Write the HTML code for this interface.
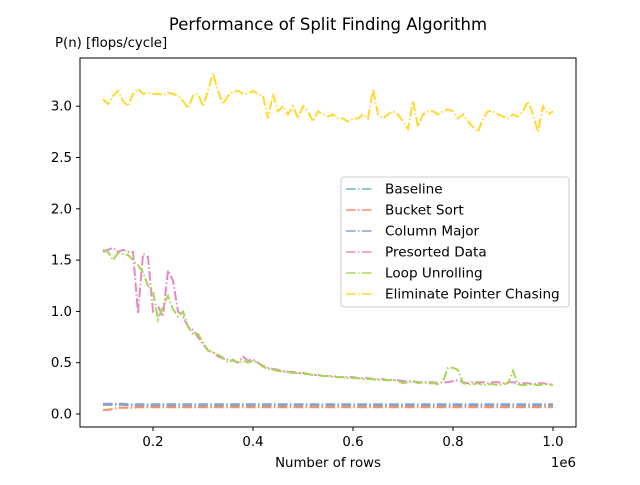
<!DOCTYPE html>
<html><head><meta charset="utf-8"><style>
body{margin:0;background:#fff;font-family:"Liberation Sans","DejaVu Sans",sans-serif}
svg text{font-family:"DejaVu Sans","Liberation Sans",sans-serif}
</style></head><body>
<svg id="chart" width="640" height="480">
<text x="328" y="30" font-size="16.5" text-anchor="middle">Performance of Split Finding Algorithm</text>
<text x="55" y="47" font-size="13.3">P(n) [flops/cycle]</text>
<text x="328" y="467" font-size="13.3" text-anchor="middle">Number of rows</text>
<text x="576" y="467" font-size="13.3" text-anchor="end">1e6</text>
<g id="plot"></g>
<rect x="80" y="58" width="496" height="369" fill="none" stroke="#000" stroke-width="1"/>
<g id="legend"></g>
</svg>
<script>
const xTicks=[0.2,0.4,0.6,0.8,1.0];
const xTickLabels=["0.2","0.4","0.6","0.8","1.0"];
const yTicks=[0,0.5,1,1.5,2,2.5,3];
const yTickLabels=["0.0","0.5","1.0","1.5","2.0","2.5","3.0"];
const seriesNames=["Baseline","Bucket Sort","Column Major","Presorted Data","Loop Unrolling","Eliminate Pointer Chasing"];
const seriesColors=["#66c2a5","#fc8d62","#8da0cb","#e78ac3","#a6d854","#ffd92f"];
const rows=[];for(let i=0;i<=90;i++)rows.push(0.1+i*0.01);
const baseline=[0.09,0.09,0.09,0.09,0.09,0.09,0.09,0.085,0.085,0.085,0.085,0.085,0.085,0.085,0.085,0.085,0.085,0.085,0.085,0.085,0.085,0.085,0.085,0.085,0.085,0.085,0.085,0.085,0.085,0.085,0.085,0.085,0.085,0.085,0.085,0.085,0.085,0.085,0.085,0.085,0.085,0.085,0.085,0.085,0.085,0.085,0.085,0.085,0.085,0.085,0.085,0.085,0.085,0.085,0.085,0.085,0.085,0.085,0.085,0.085,0.085,0.085,0.085,0.085,0.085,0.085,0.085,0.085,0.085,0.085,0.085,0.085,0.085,0.085,0.085,0.085,0.085,0.085,0.085,0.085,0.085,0.085,0.085,0.085,0.085,0.085,0.085,0.085,0.085,0.085,0.085];
const bucketSort=[0.04,0.04,0.05,0.06,0.06,0.06,0.06,0.065,0.065,0.065,0.065,0.065,0.065,0.065,0.065,0.065,0.065,0.065,0.065,0.065,0.065,0.065,0.065,0.065,0.065,0.065,0.065,0.065,0.065,0.065,0.065,0.065,0.065,0.065,0.065,0.065,0.065,0.065,0.065,0.065,0.065,0.065,0.065,0.065,0.065,0.065,0.065,0.065,0.065,0.065,0.065,0.065,0.065,0.065,0.065,0.065,0.065,0.065,0.065,0.065,0.065,0.065,0.065,0.065,0.065,0.065,0.065,0.065,0.065,0.065,0.065,0.065,0.065,0.065,0.065,0.065,0.065,0.065,0.065,0.065,0.065,0.065,0.065,0.065,0.065,0.065,0.065,0.065,0.065,0.065,0.065];
const columnMajor=[0.095,0.095,0.095,0.095,0.095,0.09,0.09,0.09,0.09,0.09,0.09,0.09,0.09,0.09,0.09,0.09,0.09,0.09,0.09,0.09,0.09,0.09,0.09,0.09,0.09,0.09,0.09,0.09,0.09,0.09,0.09,0.09,0.09,0.09,0.09,0.09,0.09,0.09,0.09,0.09,0.09,0.09,0.09,0.09,0.09,0.09,0.09,0.09,0.09,0.09,0.09,0.09,0.09,0.09,0.09,0.09,0.09,0.09,0.09,0.09,0.09,0.09,0.09,0.09,0.09,0.09,0.09,0.09,0.09,0.09,0.09,0.09,0.09,0.09,0.09,0.09,0.09,0.09,0.09,0.09,0.09,0.09,0.09,0.09,0.09,0.09,0.09,0.09,0.09,0.09,0.09];
const presorted=[1.58,1.6,1.62,1.58,1.6,1.58,1.58,0.98,1.56,1.53,1.0,1.05,0.95,1.4,1.3,1.0,0.95,0.85,0.82,0.75,0.68,0.62,0.6,0.56,0.54,0.53,0.52,0.5,0.56,0.52,0.53,0.5,0.47,0.45,0.44,0.43,0.42,0.41,0.41,0.4,0.4,0.39,0.38,0.38,0.37,0.37,0.37,0.36,0.36,0.36,0.36,0.35,0.35,0.35,0.34,0.34,0.34,0.33,0.33,0.33,0.32,0.32,0.32,0.31,0.31,0.31,0.31,0.3,0.31,0.31,0.32,0.33,0.31,0.3,0.31,0.31,0.31,0.3,0.31,0.31,0.3,0.31,0.31,0.3,0.3,0.3,0.29,0.3,0.3,0.29,0.29];
const loopUnrolling=[1.6,1.58,1.5,1.57,1.56,1.55,1.5,1.45,1.38,1.25,1.2,0.92,1.05,1.15,1.02,0.95,1.0,0.85,0.78,0.78,0.7,0.62,0.6,0.58,0.55,0.5,0.53,0.5,0.52,0.5,0.52,0.5,0.46,0.44,0.43,0.42,0.41,0.41,0.4,0.4,0.39,0.39,0.38,0.38,0.37,0.37,0.36,0.36,0.36,0.35,0.35,0.35,0.34,0.34,0.34,0.33,0.33,0.33,0.33,0.32,0.3,0.31,0.32,0.3,0.31,0.3,0.3,0.29,0.32,0.45,0.45,0.43,0.3,0.29,0.29,0.3,0.28,0.29,0.29,0.28,0.29,0.3,0.42,0.29,0.28,0.29,0.29,0.28,0.29,0.29,0.28];
const pointerChasing=[3.07,3.02,3.1,3.15,3.05,3.0,3.12,3.17,3.12,3.13,3.12,3.12,3.11,3.13,3.12,3.1,3.05,2.98,3.1,3.12,3.0,3.15,3.32,3.15,3.02,3.1,3.14,3.15,3.12,3.12,3.15,3.12,3.1,2.88,3.12,2.95,3.0,2.92,3.0,2.88,3.0,2.95,2.85,2.95,2.92,2.9,2.92,2.88,2.88,2.85,2.88,2.88,2.92,2.88,3.17,2.92,2.88,2.92,2.95,2.92,2.85,2.78,3.05,2.8,2.92,2.95,2.95,2.92,2.95,2.97,2.95,2.88,2.92,2.85,2.8,2.75,2.88,2.95,2.95,2.92,2.9,2.88,2.92,2.9,2.95,3.05,2.92,2.75,3.0,2.92,2.95];
const allSeries=[baseline,bucketSort,columnMajor,presorted,loopUnrolling,pointerChasing];

const NS="http://www.w3.org/2000/svg";
const X=v=>103+(v-0.1)*500;
const Y=v=>414-v*102.6;
const plot=document.getElementById('plot');
function mk(tag,attrs,parent){const e=document.createElementNS(NS,tag);for(const k in attrs)e.setAttribute(k,attrs[k]);parent.appendChild(e);return e;}
xTicks.forEach((t,i)=>{
  const l=mk('line',{x1:X(t),x2:X(t),y1:427,y2:431,stroke:'#000'},plot);
  
  
  const tx=mk('text',{x:X(t),y:446,'font-size':13.3,'text-anchor':'middle'},plot);tx.textContent=xTickLabels[i];
  
  
});
yTicks.forEach((t,i)=>{
  const l=mk('line',{x1:76,x2:80,y1:Y(t),y2:Y(t),stroke:'#000'},plot);
  
  
  const tx=mk('text',{x:72,y:Y(t)+4.5,'font-size':13.3,'text-anchor':'end'},plot);tx.textContent=yTickLabels[i];
  
  
});
allSeries.forEach((s,k)=>{
  const d=s.map((v,i)=>(i?'L':'M')+X(rows[i]).toFixed(1)+','+Y(v).toFixed(1)).join('');
  const p=mk('path',{d:d,fill:'none',stroke:seriesColors[k],'stroke-width':k==2?3:2,'stroke-dasharray':'9.6,2.4,1.5,2.4'},plot);
  
  
});
const lg=document.getElementById('legend');
mk('rect',{x:341,y:177,width:228,height:130,rx:3,fill:'#fff','fill-opacity':0.8,stroke:'#ccc'},lg);
seriesNames.forEach((n,k)=>{
  const y=189+k*21;
  const l=mk('line',{x1:346,x2:374,y1:y,y2:y,stroke:seriesColors[k],'stroke-width':1.5,'stroke-dasharray':'9.6,2.4,1.5,2.4'},lg);
  
  
  const t=mk('text',{x:385,y:y+4.5,'font-size':13.6},lg);t.textContent=n;
  
  
});
</script>
</body></html>
